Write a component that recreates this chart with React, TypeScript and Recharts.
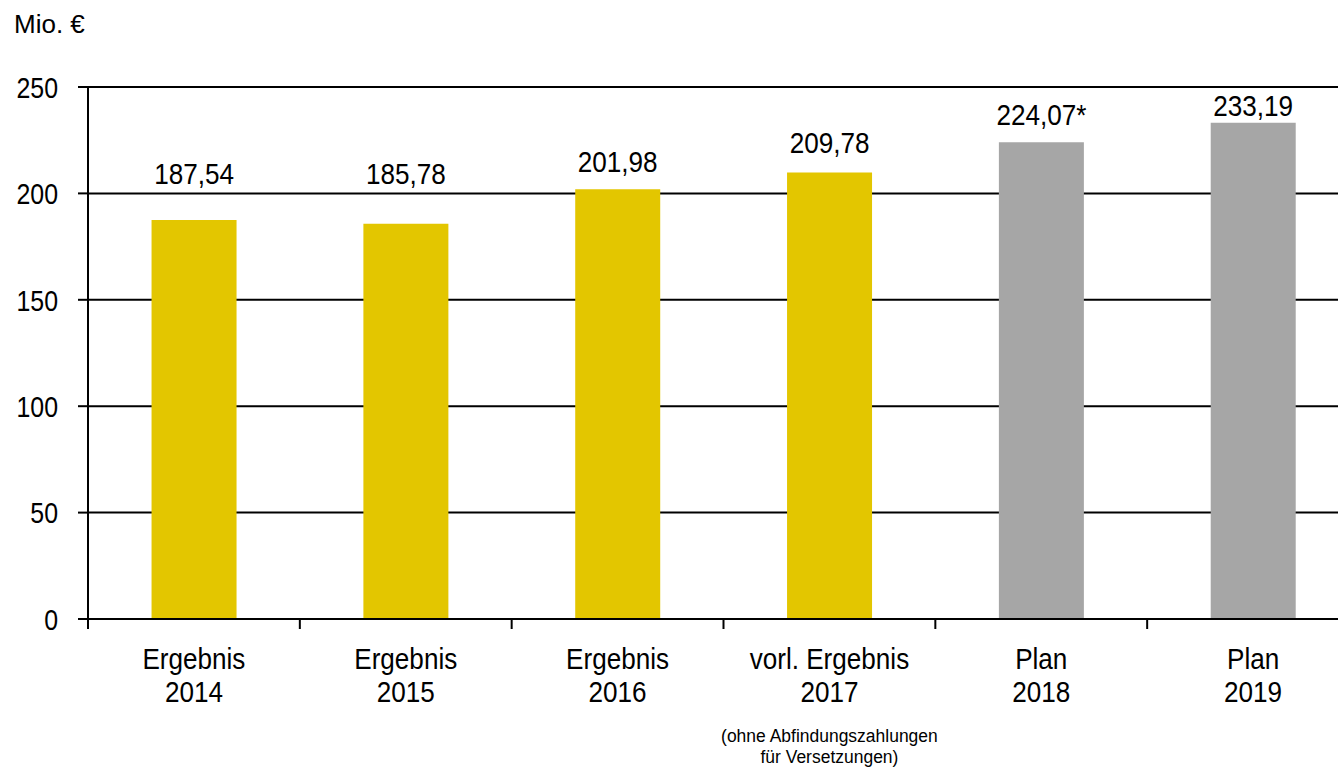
import { BarChart, Bar, XAxis, YAxis, CartesianGrid, Cell, LabelList } from "recharts";

const categories = ["Ergebnis\n2014", "Ergebnis\n2015", "Ergebnis\n2016", "vorl. Ergebnis\n2017", "Plan\n2018", "Plan\n2019"];
const notes = ["", "", "", "(ohne Abfindungszahlungen\nfür Versetzungen)", "", ""];
const values = [187.54, 185.78, 201.98, 209.78, 224.07, 233.19];
const valueLabels = ["187,54", "185,78", "201,98", "209,78", "224,07*", "233,19"];
const barColors = ["#E3C600", "#E3C600", "#E3C600", "#E3C600", "#A6A6A6", "#A6A6A6"];
const yTicks = [0, 50, 100, 150, 200, 250];

const data = categories.map((c, i) => ({ cat: c, value: values[i], label: valueLabels[i] }));

// gap between a value label's baseline and its bar top (the source placed them unevenly)
const labelGaps = [36, 40, 17, 20, 17, 7];

const FONT = "'Liberation Sans', Arial, sans-serif";
const W = 1359;
const LEFT = 88;
const BAND = (W - LEFT) / categories.length;

const CategoryTick = ({ x, y, payload, index }: any) => {
  const lines = String(payload.value).split("\n");
  const note = notes[index] ? notes[index].split("\n") : [];
  const axisY = -10;
  return (
    <g transform={`translate(${x},${y})`}>
      {index === 0 && <line x1={-BAND / 2} x2={-BAND / 2} y1={axisY} y2={axisY + 10} stroke="#000" strokeWidth={2} />}
      <line x1={BAND / 2} x2={BAND / 2} y1={axisY} y2={axisY + 10} stroke="#000" strokeWidth={2} />
      {lines.map((l, i) => (
        <text key={i} transform={`translate(0,${40 + i * 33}) scale(0.9,1)`} textAnchor="middle" fontSize={29} fill="#000" fontFamily={FONT}>
          {l}
        </text>
      ))}
      {note.map((l, i) => (
        <text key={"n" + i} transform={`translate(0,${113 + i * 21}) scale(0.92,1)`} textAnchor="middle" fontSize={19} fill="#000" fontFamily={FONT}>
          {l}
        </text>
      ))}
    </g>
  );
};

const ValueTick = ({ x, y, payload }: any) => (
  <text transform={`translate(${x},${y}) scale(0.83,1)`} dy="0.36em" textAnchor="end" fontSize={30} fill="#000" fontFamily={FONT}>
    {payload.value}
  </text>
);

const ValueLabel = ({ x, y, width, index, value }: any) => (
  <text
    transform={`translate(${x + width / 2},${y - labelGaps[index]}) scale(0.87,1)`}
    textAnchor="middle"
    fontSize={30}
    fill="#000"
    fontFamily={FONT}
  >
    {value}
  </text>
);

export default function App() {
  return (
    <div style={{ position: "absolute", left: 0, top: 0, width: 1338, height: 770, overflow: "hidden", background: "#fff" }}>
      <div style={{ position: "absolute", left: 14, top: 11, fontSize: 26, lineHeight: "26px", fontFamily: FONT, color: "#000", zIndex: 1 }}>
        Mio. €
      </div>
      <BarChart width={W} height={770} data={data} margin={{ top: 87, right: 0, bottom: 0, left: 0 }} barCategoryGap="30%">
        <CartesianGrid horizontal vertical={false} stroke="#000" strokeWidth={2} />
        <XAxis
          dataKey="cat"
          height={151}
          interval={0}
          tick={<CategoryTick />}
          axisLine={{ stroke: "#000", strokeWidth: 2 }}
          tickLine={false}
          tickSize={10}
          tickMargin={0}
        />
        <YAxis
          width={LEFT}
          domain={[0, 250]}
          ticks={yTicks}
          interval={0}
          tick={<ValueTick />}
          axisLine={{ stroke: "#000", strokeWidth: 2 }}
          tickLine={{ stroke: "#000", strokeWidth: 2 }}
          tickSize={10}
          tickMargin={20}
        />
        <Bar dataKey="value" isAnimationActive={false}>
          {data.map((d, i) => (
            <Cell key={i} fill={barColors[i]} />
          ))}
          <LabelList dataKey="label" content={<ValueLabel />} />
        </Bar>
      </BarChart>
    </div>
  );
}
